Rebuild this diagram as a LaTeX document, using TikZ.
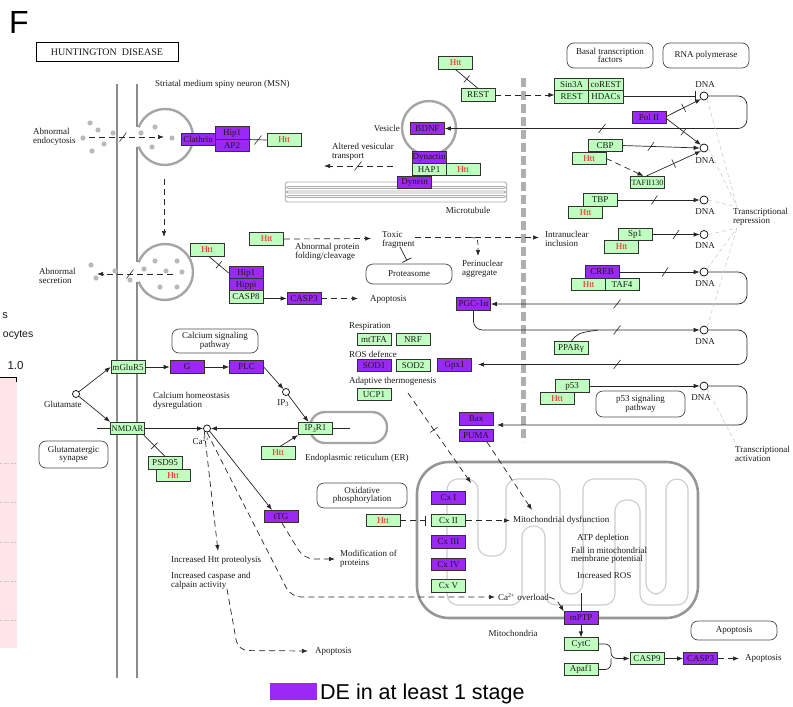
\documentclass[tikz,border=0pt]{standalone}
\usepackage{fontspec}
\setmainfont{Liberation Serif}
\newfontfamily\sansf{Liberation Sans}
\usetikzlibrary{arrows.meta,decorations.markings}
\definecolor{gg}{RGB}{191,255,191}
\definecolor{pp}{RGB}{155,40,245}
\definecolor{bc}{RGB}{50,50,50}
\definecolor{htr}{RGB}{235,20,20}
\definecolor{membg}{RGB}{140,140,140}
\definecolor{vesg}{RGB}{165,165,165}
\definecolor{dotg}{RGB}{185,185,185}
\definecolor{nucg}{RGB}{175,175,175}
\definecolor{mitog}{RGB}{150,150,150}
\definecolor{mitoin}{RGB}{205,205,205}
\definecolor{mtg}{RGB}{170,170,170}
\definecolor{trg}{RGB}{205,205,205}
\definecolor{pinkc}{RGB}{255,228,232}
\definecolor{txt}{RGB}{25,25,25}
\newcommand\kf{\fontsize{9}{8.5}\selectfont}
\newcommand\brkmark[2]{\draw[black!85,line width=0.6pt] (#1-3.5,#2+4.5) -- (#1+3.5,#2-4.5);}
\begin{document}
\begin{tikzpicture}[x=1pt,y=-1pt,font=\kf,text=txt,
 gb/.style={draw=bc,line width=0.6pt,fill=gg,minimum width=34pt,minimum height=12.5pt,inner sep=0pt},
 pb/.style={gb,fill=pp},
 hb/.style={gb,text=htr},
 lbl/.style={inner sep=0pt,align=left,anchor=west},
 ctr/.style={inner sep=0pt,align=center},
 rbx/.style={draw=black!70,line width=0.7pt,rounded corners=7pt,align=center,inner sep=0pt},
 ln/.style={draw=black!85,line width=0.7pt},
 arr/.style={ln,-{Latex[length=6pt,width=4.5pt]}},
 dsh/.style={dash pattern=on 6pt off 4pt},
 darr/.style={arr,dsh},
 inh/.style={ln,-{Bar[width=10pt,line width=0.8pt]}},
 xt/.style={postaction={decorate},decoration={markings,mark=at position #1 with {\draw[solid,-,line width=0.6pt,black!85] (0pt,-4.5pt)--(0pt,4.5pt);}}},
 xt/.default=0.5,
 sl/.style={postaction={decorate},decoration={markings,mark=at position #1 with {\draw[solid,-,line width=0.6pt,black!85] (-3pt,-4.5pt)--(3pt,4.5pt);}}},
 sl/.default=0.5,
 dna/.style={circle,draw=black,line width=0.7pt,fill=white,minimum size=8pt,inner sep=0pt},
 memb/.style={draw=membg,line width=2.6pt},
 ves/.style={draw=vesg,line width=2.4pt},
 trl/.style={draw=trg,line width=0.6pt,dash pattern=on 4pt off 3pt},
]
\useasboundingbox (0,0) rectangle (793,707);

% ---------- cropped neighbour panel on the left
\fill[pinkc] (0,377) rectangle (17,648);
\draw[black,line width=0.8pt] (0,377) -- (16.5,377) -- (16.5,382);
\foreach \yy in {463,502,542,581,620} \draw[gray!45,line width=0.5pt,dash pattern=on 2pt off 1.5pt] (0,\yy) -- (16,\yy);
\node[anchor=east,inner sep=0pt,font=\sansf\fontsize{11}{11}\selectfont] (lc1) at (8,316) {s};
\node[anchor=east,inner sep=0pt,font=\sansf\fontsize{10.5}{11}\selectfont] (lc2) at (33.5,335) {ocytes};
\node[inner sep=0pt,font=\sansf\fontsize{11.5}{12}\selectfont] (lc3) at (15.5,366) {1.0};

% ---------- title and header
\node[anchor=base west,inner sep=0pt,font=\sansf\fontsize{32}{32}\selectfont,text=black] (ttl) at (9,33) {F};
\node[draw=black,line width=0.9pt,minimum width=142pt,minimum height=19.5pt,inner sep=0pt,font=\fontsize{10}{10}\selectfont] (hd) at (107,52) {HUNTINGTON\ \ DISEASE};

% ---------- cell membrane and vesicles
\draw[memb] (117,84) -- (117,678);
\draw[memb] (137,84) -- (137,127.4) (137,146.6) -- (137,262.4) (137,281.6) -- (137,678);
\draw[ves] (138.7,127.4) arc[start angle=200,end angle=520,radius=28];
\draw[ves] (138.7,262.4) arc[start angle=200,end angle=520,radius=28];
\foreach \p in {(90,123),(98,130),(113,133),(83,138),(104,144),(92,151),(141,133),(155,127),(172,138),(152,147),
                (91,265),(96,278),(115,271),(130,280),(144,269),(155,261),(166,271),(177,261),(182,272),(160,287),(177,287)}
  \fill[dotg] \p circle[radius=2.6];

% ---------- nucleus boundary
\draw[draw=nucg,line width=5pt,dash pattern=on 9pt off 4pt] (523,78) -- (523,442);

% ---------- microtubule and BDNF vesicle
\foreach \yy in {182,186.5,191,195.5} \draw[draw=mtg,line width=0.8pt,rounded corners=3.2pt] (285,\yy) rectangle (507,\yy+6.5);
\draw[ves] (429,128) circle[radius=27];

% ---------- ER and mitochondrion
\draw[ves,rounded corners=15pt] (310,412) rectangle (387,443);
\draw[draw=mitog,line width=2.6pt,rounded corners=32pt] (417,462) rectangle (698,618);
\draw[draw=mitoin,line width=1.1pt,rounded corners=11pt] (447,560) -- (447,479) -- (478,479) -- (478,556) -- (506,556) -- (506,479) -- (560,479) -- (560,594) -- (583,594) -- (583,479) -- (646,479) -- (646,594) -- (666,594) -- (666,479) -- (688,479) -- (688,605) -- (640,605) -- (640,500) -- (615,500) -- (615,605) -- (545,605) -- (545,526) -- (522,526) -- (522,605) -- (447,605) -- cycle;

% ---------- rounded pathway boxes
\node[rbx,minimum width=86pt,minimum height=25pt] (btf) at (610,55.5) {Basal transcription\\factors};
\node[rbx,minimum width=86pt,minimum height=25pt] (rnap) at (706,55.5) {RNA polymerase};
\node[rbx,minimum width=86pt,minimum height=20pt] (prot) at (409,274) {Proteasome};
\node[rbx,minimum width=86pt,minimum height=24pt] (csp) at (215,341) {Calcium signaling\\pathway};
\node[rbx,minimum width=69pt,minimum height=27pt] (gsyn) at (73.5,454.5) {Glutamatergic\\synapse};
\node[rbx,minimum width=89pt,minimum height=26pt] (p53p) at (640.5,404) {p53 signaling\\pathway};
\node[rbx,minimum width=90pt,minimum height=25pt] (oxph) at (362,495.5) {Oxidative\\phosphorylation};
\node[rbx,minimum width=86pt,minimum height=19pt] (apobx) at (734,630.5) {Apoptosis};

% ---------- gene boxes
\node[pb] (clath) at (198,139.5) {Clathrin};
\node[pb] (hip1a) at (232,133) {Hip1};
\node[pb] (ap2) at (232,145.5) {AP2};
\node[hb] (htt1) at (284,140) {Htt};
\node[hb] (htt2) at (207,250) {Htt};
\node[pb] (hip1b) at (246,273) {Hip1};
\node[pb] (hippi) at (246,285) {Hippi};
\node[gb] (casp8) at (246,297) {CASP8};
\node[pb] (casp3a) at (304,298.5) {CASP3};
\node[hb] (htt3) at (266.5,239) {Htt};
\node[pb] (bdnf) at (427.5,128.5) {BDNF};
\node[pb] (dynac) at (429,157.5) {Dynactin};
\node[gb] (hap1) at (429,169.5) {HAP1};
\node[hb] (htt4) at (463,169.5) {Htt};
\node[pb] (dynein) at (414.5,182.5) {Dynein};
\node[hb] (htt5) at (455.5,63) {Htt};
\node[gb] (rest1) at (478,95) {REST};
\node[gb,minimum width=33.5pt] (sin3a) at (571.5,84.5) {Sin3A};
\node[gb,minimum width=35pt] (corest) at (605.75,84.5) {coREST};
\node[gb,minimum width=33.5pt] (rest2) at (571.5,97) {REST};
\node[gb,minimum width=35pt] (hdacs) at (605.75,97) {HDACs};
\node[pb] (polii) at (649,117.5) {Pol II};
\node[gb] (cbp) at (605,145.5) {CBP};
\node[hb] (htt6) at (589,158.5) {Htt};
\node[gb] (taf) at (647.5,182.5) {\fontsize{8}{8}\selectfont TAFII130};
\node[gb] (tbp) at (600,200) {TBP};
\node[hb] (htt7) at (585.5,212.25) {Htt};
\node[gb] (sp1) at (635,234.5) {Sp1};
\node[hb] (htt8) at (621.5,247) {Htt};
\node[pb] (creb) at (602,272) {CREB};
\node[hb] (htt9) at (588.5,284.5) {Htt};
\node[gb] (taf4) at (622,284.5) {TAF4};
\node[pb] (pgc) at (473.5,304) {PGC-1α};
\node[gb] (ppar) at (571,348) {PPARγ};
\node[gb] (mttfa) at (374,339.5) {mtTFA};
\node[gb] (nrf) at (413,339.5) {NRF};
\node[pb] (sod1) at (374,365.5) {SOD1};
\node[gb] (sod2) at (413,365.5) {SOD2};
\node[pb] (gpx1) at (454.5,365) {Gpx1};
\node[gb] (ucp1) at (374,394.5) {UCP1};
\node[gb] (p53) at (572,386) {p53};
\node[hb] (htt10) at (557,398.5) {Htt};
\node[pb] (bax) at (476,419) {Bax};
\node[pb] (puma) at (476,435.5) {PUMA};
\node[gb] (mglur) at (128,367) {mGluR5};
\node[pb] (g) at (187,367) {G};
\node[pb] (plc) at (246.5,367) {PLC};
\node[gb] (nmdar) at (127.5,428.5) {\fontsize{8.5}{8.5}\selectfont NMDAR};
\node[gb] (psd95) at (165,463) {PSD95};
\node[hb] (htt11) at (173,475.5) {Htt};
\node[gb] (ip3r1) at (315.5,428.5) {IP\raisebox{-1.5pt}{\fontsize{6.5}{6.5}\selectfont 3}R1};
\node[hb] (htt12) at (278,453) {Htt};
\node[pb] (ttg) at (281,516.5) {tTG};
\node[hb] (htt13) at (383,520.5) {Htt};
\node[pb] (cx1) at (448.5,498) {Cx I};
\node[gb] (cx2) at (448.5,520.5) {Cx II};
\node[pb] (cx3) at (448.5,542) {Cx III};
\node[pb] (cx4) at (448.5,564.5) {Cx IV};
\node[gb] (cx5) at (448.5,586) {Cx V};
\node[pb] (mptp) at (581,618) {mPTP};
\node[gb] (cytc) at (581,644) {CytC};
\node[gb] (apaf) at (581,669.5) {Apaf1};
\node[gb] (casp9) at (647,658.5) {CASP9};
\node[pb] (casp3b) at (700.5,658.5) {CASP3};

% ---------- small circles (DNA, compounds)
\node[dna] (dna1) at (704,96) {};
\node[dna] (dna2) at (704,148) {};
\node[dna] (dna3) at (704,200) {};
\node[dna] (dna4) at (704,234.5) {};
\node[dna] (dna5) at (704,272) {};
\node[dna] (dna6) at (704,330) {};
\node[dna] (dna7) at (704,386) {};
\node[dna,minimum size=7pt] (glu) at (76,394) {};
\node[dna,minimum size=7pt] (ca) at (207,428.5) {};
\node[dna,minimum size=7pt] (ip3) at (286,392) {};

% ---------- labels
\node[ctr] (dl1) at (705,84.5) {DNA};
\node[ctr] (dl2) at (705,161) {DNA};
\node[ctr] (dl3) at (705,211.5) {DNA};
\node[ctr] (dl4) at (705,246) {DNA};
\node[ctr] (dl5) at (705,283.5) {DNA};
\node[ctr] (dl6) at (705,341.5) {DNA};
\node[ctr] (dl7) at (701,398) {DNA};
\node[lbl] (smsn) at (155,84) {Striatal medium spiny neuron (MSN)};
\node[lbl] (aend) at (33,137) {Abnormal\\endocytosis};
\node[lbl] (asec) at (39,276) {Abnormal\\secretion};
\node[lbl,anchor=east] (vest) at (400,128) {Vesicle};
\node[lbl] (avt) at (332,152) {Altered vesicular\\transport};
\node[ctr] (mtt) at (468,210) {Microtubule};
\node[lbl] (apf) at (295,252) {Abnormal protein\\folding/cleavage};
\node[lbl] (toxt) at (382,240) {Toxic\\fragment};
\node[lbl] (peri) at (462,269) {Perinuclear\\aggregate};
\node[lbl] (intr) at (545,239) {Intranuclear\\inclusion};
\node[lbl] (apo1t) at (370,299) {Apoptosis};
\node[lbl] (resp) at (349,326) {Respiration};
\node[lbl] (rosd) at (349,354) {ROS defence};
\node[lbl] (adth) at (349,381) {Adaptive thermogenesis};
\node[lbl] (trr) at (733,217) {Transcriptional\\repression};
\node[lbl] (tra) at (735,454) {Transcriptional\\activation};
\node[lbl] (glut) at (44,404) {Glutamate};
\node[lbl] (chd) at (153,401) {Calcium homeostasis\\dysregulation};
\node[ctr] (ip3t) at (283,403) {IP\raisebox{-1.5pt}{\fontsize{6.5}{6.5}\selectfont 3}};
\node[ctr] (cat) at (201,441) {Ca\textsuperscript{2+}};
\node[lbl] (ert) at (305,458) {Endoplasmic reticulum (ER)};
\node[lbl] (modt) at (340,559) {Modification of\\proteins};
\node[lbl] (hpt) at (171,560) {Increased Htt proteolysis};
\node[lbl] (cct) at (171,581) {Increased caspase and\\calpain activity};
\node[lbl] (apo2t) at (315,651) {Apoptosis};
\node[lbl] (mdys) at (513,520.5) {Mitochondrial dysfunction};
\node[ctr] (atpd) at (603,538) {ATP depletion};
\node[lbl] (fall) at (571,555.5) {Fall in mitochondrial\\membrane potential};
\node[lbl] (iros) at (577,575) {Increased ROS};
\node[lbl] (ovl) at (498,597) {Ca\textsuperscript{2+} overload};
\node[ctr] (mitt) at (513,633) {Mitochondria};
\node[lbl] (apo3t) at (745,658.5) {Apoptosis};

% ---------- free ends
\coordinate (e1a) at (89,137);   \coordinate (e1b) at (164,137);
\coordinate (e2a) at (164,179);  \coordinate (e2b) at (164,237);
\coordinate (e3a) at (173,274);  \coordinate (e3b) at (97,274);
\coordinate (apo1) at (358,298.5);
\coordinate (tox1) at (371,238.5);
\coordinate (tox2) at (415,237.5); \coordinate (tox3) at (539,237.5);
\coordinate (per0) at (470,237.5); \coordinate (per1) at (478,256);
\coordinate (prt0) at (400,247);   \coordinate (prt1) at (407,260.5);
\coordinate (avt0) at (393,166);   \coordinate (avt1) at (324,166);
\coordinate (gpxt) at (478,364.5);
\coordinate (baxt) at (497,425);
\coordinate (fr1) at (737,207); \coordinate (fr2) at (737,228); \coordinate (fr3) at (737,446);
\coordinate (nm0) at (97,428.5);
\coordinate (ip3e) at (350,428.5);
\coordinate (hp) at (218,551);
\coordinate (cc0) at (227,589);
\coordinate (apo2) at (308,651);
\coordinate (ucp0) at (408,393); \coordinate (ucpt) at (471,483);
\coordinate (pumat) at (532,510);
\coordinate (ros0) at (581,593);
\coordinate (mrg) at (618,658.5);

% ---------- connectors: membrane
\draw[darr] (e1a) -- (e1b); \brkmark{123}{137}
\draw[darr] (e2a) -- (e2b);
\draw[darr] (e3a) -- (e3b); \brkmark{130}{274}
\draw[ln] (hip1a.south east) -- (htt1.west); \brkmark{258}{140}
\draw[ln,xt] ([xshift=2pt]htt2.south) -- (hip1b.west);
\draw[arr] (casp8.east |- casp3a.west) -- (casp3a.west);
\draw[darr] (casp3a.east) -- (apo1);

% ---------- toxic fragment
\draw[darr] (htt3.east) -- (tox1);
\draw[darr] (tox2) -- (tox3);
\draw[ln,dash pattern=on 5pt off 3pt,-{Latex[length=6pt,width=4.5pt]}] (per0) .. controls (478,238) .. (per1);
\draw[inh] (prt0) -- (prt1);

% ---------- vesicle transport
\draw[darr] (avt0) -- (avt1); \brkmark{358}{166}
\draw[ln,xt] (htt5.south) -- (rest1.north);
\draw[darr] (rest1.east) -- ([yshift=2pt]rest2.west);

% ---------- transcription
\draw[inh] (hdacs.east |- dna1.west) -- ([xshift=-4pt]dna1.west);
\draw[arr,xt] ([yshift=1pt]polii.east) -- (dna1.south west);
\draw[arr,xt] ([yshift=-1pt]polii.east) -- (dna2.north west);
\draw[arr,sl=0.37] (cbp.east) -- (dna2.west);
\draw[darr] (htt6.east) -- ([xshift=-4pt]taf.north);
\draw[arr,xt] ([xshift=-1pt]taf.north) -- (dna2.south west);
\draw[arr,sl=0.45] (tbp.east) -- (dna3.west);
\draw[arr,sl=0.5] (sp1.east) -- (dna4.west);
\draw[arr,sl=0.57] (creb.east) -- (dna5.west);
\draw[arr] (p53.east) -- (dna7.west);
\draw[arr,rounded corners=9pt] (dna1.east) -- (747,96) -- (747,128.5) -- (bdnf.east); \brkmark{602}{128.5}
\draw[arr,rounded corners=9pt] (dna5.east) -- (747,272) -- (747,304) -- (pgc.east); \brkmark{617}{304}
\draw[arr,rounded corners=9pt] (pgc.south) -- (473.5,330) -- (dna6.west); \brkmark{617}{330}
\draw[ln] (ppar.north) .. controls (578,333) .. (598,330);
\draw[arr,rounded corners=9pt] (dna6.east) -- (747,330) -- (747,364.5) -- (gpxt); \brkmark{617}{364.5}
\draw[arr,rounded corners=9pt] (dna7.east) -- (747,386) -- (747,425) -- (baxt);
\draw[trl] (dna1.south east) -- (fr1);
\draw[trl] (dna2.east) -- (fr1);
\draw[trl] (dna3.east) -- (fr1);
\draw[trl] (dna4.east) -- (fr2);
\draw[trl] (dna5.north east) -- (fr2);
\draw[trl] (dna6.north east) -- (fr2);
\draw[trl] (dna7.south east) -- (fr3);

% ---------- calcium
\draw[arr] (glu) -- (mglur.west);
\draw[arr] (glu) -- (nmdar.north west);
\draw[arr] (mglur.east) -- (g.west);
\draw[arr] (g.east) -- (plc.west);
\draw[arr] (plc.east) -- (ip3);
\draw[arr] (ip3) -- ([xshift=-7pt]ip3r1.north);
\draw[ln] (nm0) -- (nmdar.west);
\draw[arr] (nmdar.east) -- (ca.west);
\draw[arr] (ip3r1.west) -- (ca.east);
\draw[ln] (ip3r1.east) -- (ip3e);
\draw[arr] ([xshift=2pt]htt12.north) -- (ip3r1.south west);
\draw[ln,xt] ([xshift=-1pt]nmdar.south east) -- (psd95.north);
\draw[arr] (ca.south east) -- ([xshift=-9pt]ttg.north);
\draw[darr] (ca.south west) -- (hp);
\draw[darr,rounded corners=10pt] (ca.south) -- (291,597) -- ([xshift=-3pt]ovl.west);
\draw[darr,rounded corners=10pt] ([xshift=1pt]ttg.south) -- (304,559) -- ([xshift=-5pt]modt.west);
\draw[darr,rounded corners=10pt] (cc0) -- (238,650.5) -- (apo2);

% ---------- mitochondrion
\draw[darr,xt=0.41] (ucp0) -- (ucpt);
\draw[darr] ([xshift=11pt]puma.south) -- (pumat);
\draw[inh,dsh] (htt13.east) -- ([xshift=-5pt]cx2.west);
\draw[darr] (cx2.east) -- ([xshift=-3pt]mdys.west);
\draw[darr] (ovl.east) .. controls (557,600) .. (mptp.north west);
\draw[ln] (ros0) -- (mptp.north);
\draw[arr] (mptp.south) -- (cytc.north);
\draw[ln,rounded corners=6pt] (cytc.east) -- (611,644) -- (611,658.5) -- (mrg);
\draw[ln,rounded corners=6pt] (apaf.east) -- (611,669.5) -- (611,658.5);
\draw[arr] (mrg) -- (casp9.west);
\draw[arr] (casp9.east) -- (casp3b.west);
\draw[darr] (casp3b.east) -- ([xshift=-6pt]apo3t.west);

% ---------- legend
\node[fill=pp,minimum width=47pt,minimum height=17pt,inner sep=0pt] (lgb) at (293.5,691.5) {};
\node[anchor=base west,inner sep=0pt,font=\sansf\fontsize{21.5}{22}\selectfont,text=black] (lgt) at (320,699) {DE in at least 1 stage};
\end{tikzpicture}
\end{document}
